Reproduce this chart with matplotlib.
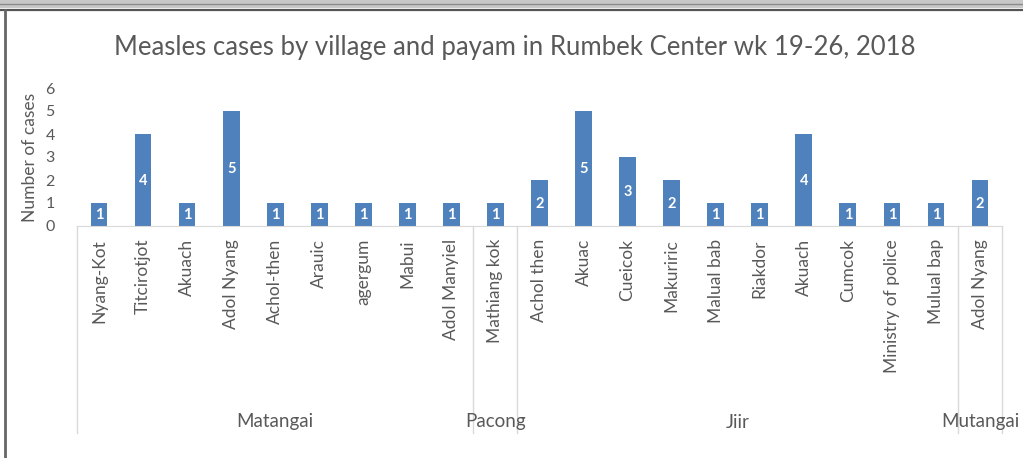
import matplotlib
matplotlib.use("Agg")
import matplotlib.pyplot as plt
from matplotlib.transforms import blended_transform_factory
from matplotlib.lines import Line2D
from matplotlib.patches import Rectangle

villages = ["Nyang-Kot", "Titcirotjot", "Akuach", "Adol Nyang", "Achol-then", "Arauic",
            "agergum", "Mabui", "Adol Manyiel", "Mathiang kok", "Achol then", "Akuac",
            "Cueicok", "Makuriric", "Malual bab", "Riakdor", "Akuach", "Cumcok",
            "Ministry of police", "Mulual bap", "Adol Nyang"]
cases = [1, 4, 1, 5, 1, 1, 1, 1, 1, 1, 2, 5, 3, 2, 1, 1, 4, 1, 1, 1, 2]
payams = ["Matangai", "Pacong", "Jiir", "Mutangai"]
payam_sizes = [9, 1, 10, 1]
yticks = [0, 1, 2, 3, 4, 5, 6]

W, H = 1023, 458
plt.rcParams['font.family'] = ['Lato', 'DejaVu Sans']
fig = plt.figure(figsize=(W / 100, H / 100), dpi=100)

def fy(py):
    return 1 - py / H

def fx(px):
    return px / W

# window frame
fig.patches.append(Rectangle((0, fy(8)), 1, 8 / H, transform=fig.transFigure,
                             facecolor="#c8c8c8", edgecolor="none"))
fig.add_artist(Line2D([0, 1], [fy(4), fy(4)], transform=fig.transFigure, color="#8a8a8a", lw=1))
fig.add_artist(Line2D([0, 1], [fy(10), fy(10)], transform=fig.transFigure, color="#555555", lw=1.6))
fig.add_artist(Line2D([fx(5), fx(5)], [0, fy(10)], transform=fig.transFigure, color="#666666", lw=2))

grey = "#595959"
bar_color = "#4F81BD"

ax = fig.add_axes([fx(77), fy(226), fx(1002) - fx(77), fy(88) - fy(226)])
x = list(range(len(villages)))
bars = ax.bar(x, cases, width=0.38, color=bar_color)
for xi, v in zip(x, cases):
    ax.text(xi, v / 2 - 0.04, str(v), ha="center", va="center",
            color="white", fontsize=10.5, fontweight="bold")

ax.set_xlim(-0.5, len(villages) - 0.5)
ax.set_ylim(0, 6)
ax.set_yticks(yticks)
ax.set_yticklabels([str(t) for t in yticks], color=grey, fontsize=11.5)
ax.tick_params(axis="y", length=0, pad=16)
ax.set_xticks([])
for s in ["top", "right", "left"]:
    ax.spines[s].set_visible(False)
ax.spines["bottom"].set_color("#d9d9d9")
ax.set_ylabel("Number of cases", color=grey, fontsize=12.5, labelpad=5)

trans = blended_transform_factory(ax.transData, fig.transFigure)
# category table lines
bounds = [-0.5]
acc = -0.5
for n in payam_sizes:
    acc += n
    bounds.append(acc)
for b in bounds:
    fig.add_artist(Line2D([b, b], [fy(226), fy(433)], transform=trans, color="#d9d9d9", lw=1))

for xi, name in zip(x, villages):
    fig.text(xi, fy(239), name, transform=trans, rotation=90, ha="center", va="top",
             color=grey, fontsize=12.5)

start = -0.5
for name, n in zip(payams, payam_sizes):
    c = start + n / 2
    fig.text(c, fy(422), name, transform=trans, ha="center", va="center",
             color=grey, fontsize=13.5)
    start += n

fig.text(fx(515), fy(47), "Measles cases by village and payam in Rumbek Center wk 19-26, 2018",
         ha="center", va="center", color=grey, fontsize=18.5)

fig.savefig("out.png", dpi=100, facecolor="white")
